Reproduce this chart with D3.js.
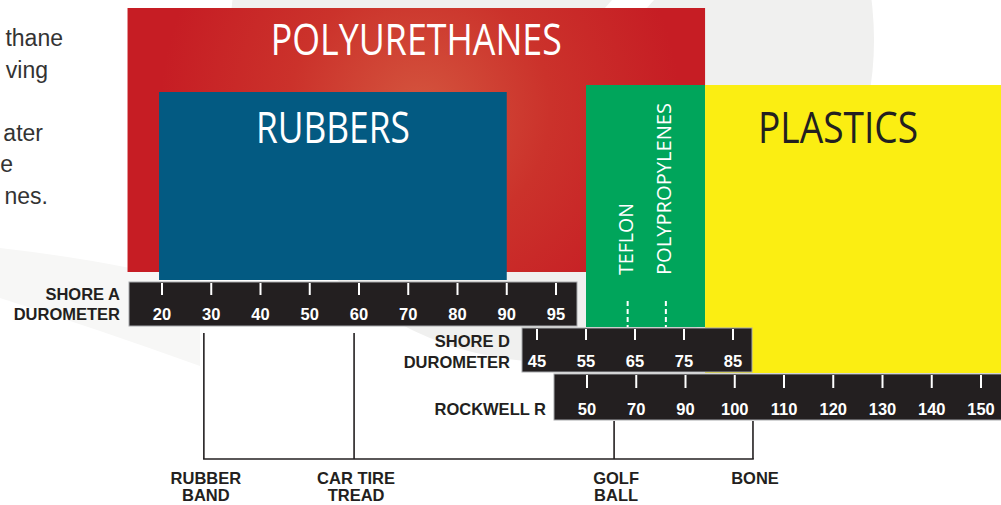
<!DOCTYPE html>
<html>
<head>
<meta charset="utf-8">
<script src="https://cdn.jsdelivr.net/npm/d3@7"></script>
<style>
  html, body { margin: 0; padding: 0; background: #fff; overflow: hidden; }
  svg { display: block; }
</style>
</head>
<body>
<svg id="chart" width="1001" height="505"></svg>
<script>
  // tick labels of the three hardness scales
  var shoreATicks = [20, 30, 40, 50, 60, 70, 80, 90, 95];
  var shoreDTicks = [45, 55, 65, 75, 85];
  var rockwellTicks = [50, 70, 90, 100, 110, 120, 130, 140, 150];

  // material bands, start / end read as [scale, value]
  var materials = ["POLYURETHANES", "TEFLON", "PLASTICS", "RUBBERS"];
  var materialStart = [["shoreA", 13], ["shoreD", 55], ["shoreD", 79.3], ["shoreA", 19.4]];
  var materialEnd = [["shoreD", 79.3], ["shoreD", 79.3], ["rockwell", 155], ["shoreA", 90]];

  // the two plastics marked inside the green band (shore D)
  var plastics = ["TEFLON", "POLYPROPYLENES"];
  var plasticValues = [63.5, 71.3];

  // everyday objects under the scales
  var markerLabels = [["RUBBER", "BAND"], ["CAR TIRE", "TREAD"], ["GOLF", "BALL"], ["BONE"]];
  var markerScales = ["shoreA", "shoreA", "rockwell", "rockwell"];
  var markerValues = [28.5, 59, 61, 103.7];

  // paragraph cut off at the left edge
  var introLines = ["thane", "ving", "", "ater", "e", "nes."];
  var introRight = [63, 48, 0, 43, 13, 48];

  var dark = "#231f20";
  var labelFont = "'Liberation Sans', Arial, Helvetica, sans-serif";
  var bigFont = "'Open Sans', 'Noto Sans', sans-serif";

  var svg = d3.select("#chart");
  var defs = svg.append("defs");

  var glow = defs.append("radialGradient")
      .attr("id", "pu-glow")
      .attr("gradientUnits", "userSpaceOnUse")
      .attr("cx", 420).attr("cy", 110).attr("r", 260);
  glow.append("stop").attr("offset", 0).attr("stop-color", "#d4553e");
  glow.append("stop").attr("offset", 0.5).attr("stop-color", "#cb322b");
  glow.append("stop").attr("offset", 1).attr("stop-color", "#c61d24");

  // faint background shapes
  svg.append("circle").attr("cx", 552).attr("cy", 40).attr("r", 322).attr("fill", "#f0f0ef");
  svg.append("path").attr("d", "M612,0 L654,0 L646,9 L604,9 Z").attr("fill", "#fff");
  svg.append("path")
      .attr("d", "M0,248 Q70,256 130,268 L200,276 L200,366 Q100,330 0,298 Z")
      .attr("fill", "#f7f7f6");

  function make_scale(ticks, x0, x1) {
    var point = d3.scalePoint().domain(ticks).range([x0, x1]);
    var value = d3.scaleLinear().domain(ticks).range(ticks.map(function(t) { return point(t); }));
    return { point: point, value: value };
  }

  var scales = {
    shoreA: make_scale(shoreATicks, 162, 556),
    shoreD: make_scale(shoreDTicks, 537, 733),
    rockwell: make_scale(rockwellTicks, 587, 981)
  };

  function px(pair) {
    return scales[pair[0]].value(pair[1]);
  }

  // vertical extents and colours of the bands
  var bandY = { POLYURETHANES: [8, 272], TEFLON: [85, 327], PLASTICS: [85, 373], RUBBERS: [92, 280] };
  var bandFill = { POLYURETHANES: "url(#pu-glow)", TEFLON: "#00a55b", PLASTICS: "#fbee12", RUBBERS: "#035a82" };

  svg.selectAll("rect.band")
      .data(materials)
    .enter().append("rect")
      .attr("class", "band")
      .attr("x", function(d, i) { return px(materialStart[i]); })
      .attr("width", function(d, i) { return px(materialEnd[i]) - px(materialStart[i]); })
      .attr("y", function(d) { return bandY[d][0]; })
      .attr("height", function(d) { return bandY[d][1] - bandY[d][0]; })
      .attr("fill", function(d) { return bandFill[d]; });

  function mid(i) { return (px(materialStart[i]) + px(materialEnd[i])) / 2; }

  svg.append("text")
      .attr("x", mid(0)).attr("y", 55)
      .attr("text-anchor", "middle")
      .attr("textLength", 291).attr("lengthAdjust", "spacingAndGlyphs")
      .style("font", "400 43px " + bigFont).attr("fill", "#fff")
      .text("POLYURETHANES");

  svg.append("text")
      .attr("x", mid(3)).attr("y", 143)
      .attr("text-anchor", "middle")
      .attr("textLength", 154).attr("lengthAdjust", "spacingAndGlyphs")
      .style("font", "400 43px " + bigFont).attr("fill", "#fff")
      .text("RUBBERS");

  svg.append("text")
      .attr("x", 838).attr("y", 143)
      .attr("text-anchor", "middle")
      .attr("textLength", 160).attr("lengthAdjust", "spacingAndGlyphs")
      .style("font", "400 43px " + bigFont).attr("fill", dark)
      .text("PLASTICS");

  // teflon / polypropylenes, vertical labels with dashed pointers
  var plasticLen = [72, 172];
  plastics.forEach(function(name, i) {
    var x = scales.shoreD.value(plasticValues[i]);
    svg.append("text")
        .attr("transform", "translate(" + (x + 5) + ",275) rotate(-90)")
        .attr("textLength", plasticLen[i]).attr("lengthAdjust", "spacingAndGlyphs")
        .style("font", "400 20.5px " + bigFont).attr("fill", "#fff")
        .text(name);
    svg.append("line")
        .attr("x1", x).attr("x2", x).attr("y1", 301).attr("y2", 327)
        .attr("stroke", "#fff").attr("stroke-width", 2)
        .attr("stroke-dasharray", "5,3");
  });

  // the three scale bars
  var bars = [
    { key: "shoreA", ticks: shoreATicks, x0: 129, x1: 577, y0: 282, y1: 326, tick: [283, 295], base: 320,
      title: ["SHORE A", "DUROMETER"], titleX: 120, titleY: [300, 320] },
    { key: "shoreD", ticks: shoreDTicks, x0: 522, x1: 752, y0: 328, y1: 372, tick: [329, 340], base: 367,
      title: ["SHORE D", "DUROMETER"], titleX: 510, titleY: [347, 368] },
    { key: "rockwell", ticks: rockwellTicks, x0: 554, x1: 1003, y0: 374, y1: 420, tick: [375, 388], base: 415,
      title: ["ROCKWELL R"], titleX: 546, titleY: [415] }
  ];

  bars.forEach(function(b) {
    var g = svg.append("g").attr("class", "bar " + b.key);
    var pt = scales[b.key].point;

    g.append("rect")
        .attr("x", b.x0).attr("y", b.y0)
        .attr("width", b.x1 - b.x0).attr("height", b.y1 - b.y0)
        .attr("fill", dark).attr("stroke", "#a7a9ac").attr("stroke-width", 1);

    g.selectAll("line.tick")
        .data(b.ticks)
      .enter().append("line")
        .attr("class", "tick")
        .attr("x1", function(d) { return pt(d); })
        .attr("x2", function(d) { return pt(d); })
        .attr("y1", b.tick[0]).attr("y2", b.tick[1])
        .attr("stroke", "#fff").attr("stroke-width", 2);

    g.selectAll("text.num")
        .data(b.ticks)
      .enter().append("text")
        .attr("class", "num")
        .attr("x", function(d) { return pt(d); })
        .attr("y", b.base)
        .attr("text-anchor", "middle")
        .style("font", "700 16.5px " + labelFont).attr("fill", "#fff")
        .text(function(d) { return d; });

    b.title.forEach(function(t, j) {
      svg.append("text")
          .attr("x", b.titleX).attr("y", b.titleY[j])
          .attr("text-anchor", "end")
          .style("font", "700 16.5px " + labelFont).attr("fill", dark)
          .text(t);
    });
  });

  // marker lines down to the everyday objects
  var lineBottom = 459;
  var markerX = markerValues.map(function(v, i) { return scales[markerScales[i]].value(v); });
  var markerTop = markerScales.map(function(s) { return s === "shoreA" ? 333 : 421; });

  svg.selectAll("line.marker")
      .data(markerValues)
    .enter().append("line")
      .attr("class", "marker")
      .attr("x1", function(d, i) { return markerX[i]; })
      .attr("x2", function(d, i) { return markerX[i]; })
      .attr("y1", function(d, i) { return markerTop[i]; })
      .attr("y2", lineBottom)
      .attr("stroke", dark).attr("stroke-width", 1.6);

  svg.append("line")
      .attr("x1", d3.min(markerX) - 0.8).attr("x2", d3.max(markerX) + 0.8)
      .attr("y1", lineBottom).attr("y2", lineBottom)
      .attr("stroke", dark).attr("stroke-width", 1.6);

  markerLabels.forEach(function(lines, i) {
    lines.forEach(function(t, j) {
      svg.append("text")
          .attr("x", markerX[i] + 2).attr("y", 484 + j * 17)
          .attr("text-anchor", "middle")
          .style("font", "700 16.5px " + labelFont).attr("fill", dark)
          .text(t);
    });
  });

  svg.selectAll("text.intro")
      .data(introLines)
    .enter().append("text")
      .attr("class", "intro")
      .attr("x", function(d, i) { return introRight[i]; })
      .attr("y", function(d, i) { return 46 + i * 31.6; })
      .attr("text-anchor", "end")
      .style("font", "400 23px " + labelFont).attr("fill", "#333")
      .text(function(d) { return d; });
</script>
</body>
</html>
